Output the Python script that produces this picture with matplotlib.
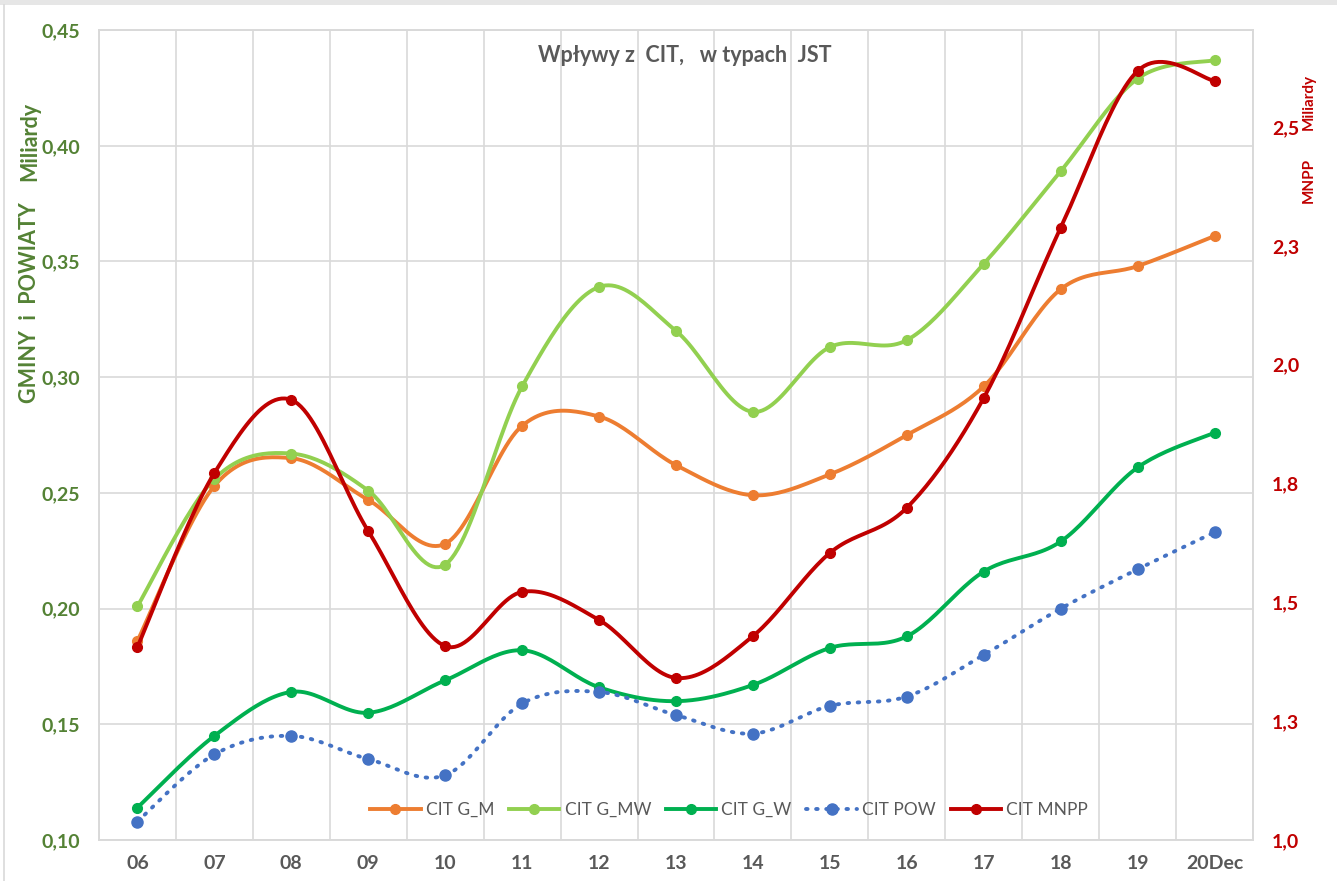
import numpy as np
import matplotlib
matplotlib.use("Agg")
import matplotlib.pyplot as plt
from matplotlib.lines import Line2D

## data (values in billions)
years = ['06', '07', '08', '09', '10', '11', '12', '13', '14', '15', '16', '17', '18', '19', '20Dec']
g_m = [0.186, 0.253, 0.265, 0.247, 0.228, 0.279, 0.283, 0.262, 0.249, 0.258, 0.275, 0.296, 0.338, 0.348, 0.361]
g_mw = [0.201, 0.256, 0.267, 0.251, 0.219, 0.296, 0.339, 0.320, 0.285, 0.313, 0.316, 0.349, 0.389, 0.429, 0.437]
g_w = [0.114, 0.145, 0.164, 0.155, 0.169, 0.182, 0.166, 0.160, 0.167, 0.183, 0.188, 0.216, 0.229, 0.261, 0.276]
pow_ = [0.108, 0.137, 0.145, 0.135, 0.128, 0.159, 0.164, 0.154, 0.146, 0.158, 0.162, 0.180, 0.200, 0.217, 0.233]
mnpp = [1.406, 1.772, 1.926, 1.650, 1.408, 1.522, 1.463, 1.341, 1.429, 1.604, 1.699, 1.930, 2.288, 2.618, 2.597]

left_ticks = [0.10, 0.15, 0.20, 0.25, 0.30, 0.35, 0.40, 0.45]
right_ticks = [1.0, 1.25, 1.5, 1.75, 2.0, 2.25, 2.5]
right_labels = ['1,0', '1,3', '1,5', '1,8', '2,0', '2,3', '2,5']

plt.rcParams['font.family'] = ['Lato', 'DejaVu Sans']

GREY = '#595959'
GREEN_TXT = '#548235'
RED = '#C00000'


# excel-like smoothed line (catmull-rom between the points)
def smooth(y, n=25):
    y = np.asarray(y, dtype=float)
    x = np.arange(len(y), dtype=float)
    p = np.vstack([x, y]).T
    p = np.vstack([p[0], p, p[-1]])
    out = []
    t = np.linspace(0, 1, n)[:, None]
    for i in range(1, len(p) - 2):
        p0, p1, p2, p3 = p[i - 1], p[i], p[i + 1], p[i + 2]
        c1 = p1 + (p2 - p0) / 6
        c2 = p2 - (p3 - p1) / 6
        seg = ((1 - t) ** 3) * p1 + 3 * ((1 - t) ** 2) * t * c1 + 3 * (1 - t) * t ** 2 * c2 + t ** 3 * p2
        out.append(seg)
    out = np.vstack(out)
    return out[:, 0], out[:, 1]


fig = plt.figure(figsize=(13.37, 8.81), dpi=100)
ax = fig.add_axes([0.074, 0.0465, 0.8632, 0.9194])
ax2 = ax.twinx()

x = np.arange(len(years))
series = [
    (g_m, '#ED7D31', 'CIT G_M'),
    (g_mw, '#92D050', 'CIT G_MW'),
    (g_w, '#00B050', 'CIT G_W'),
]
handles = []
for vals, col, lab in series:
    sx, sy = smooth(vals)
    ax.plot(sx, sy, color=col, lw=2.8, solid_capstyle='round', zorder=3)
    ax.plot(x, vals, 'o', color=col, ms=7, zorder=4)
    handles.append(Line2D([], [], color=col, lw=2.8, marker='o', ms=7, label=lab))

dots = (0, (0.4, 2.2))
sx, sy = smooth(pow_)
ax.plot(sx, sy, color='#4472C4', lw=2.8, linestyle=dots, dash_capstyle='round', zorder=3)
ax.plot(x, pow_, 'o', color='#4472C4', ms=8, zorder=4)
handles.append(Line2D([], [], color='#4472C4', lw=2.8, linestyle=dots,
                      dash_capstyle='round', marker='o', ms=8, label='CIT POW'))

sx, sy = smooth(mnpp)
ax2.plot(sx, sy, color=RED, lw=2.8, solid_capstyle='round', zorder=3)
ax2.plot(x, mnpp, 'o', color=RED, ms=7, zorder=4)
handles.append(Line2D([], [], color=RED, lw=2.8, marker='o', ms=7, label='CIT MNPP'))

## axes
ax.set_xlim(-0.5, len(years) - 0.5)
ax.set_ylim(0.10, 0.45)
ax2.set_ylim(1.0, 2.704)

ax.set_xticks(x)
ax.set_xticklabels(years)
ax.set_xticks(np.arange(-0.5, len(years)), minor=True)
ax.set_yticks(left_ticks)
ax.set_yticklabels([('%.2f' % v).replace('.', ',') for v in left_ticks])
ax2.set_yticks(right_ticks)
ax2.set_yticklabels(right_labels)

ax.tick_params(axis='x', which='both', length=0, pad=11, labelsize=14, labelcolor=GREY)
ax.tick_params(axis='y', length=0, pad=13.5, labelsize=14, labelcolor=GREEN_TXT)
ax2.tick_params(axis='y', length=0, pad=13.5, labelsize=14, labelcolor=RED)
for lbl in ax.get_xticklabels() + ax.get_yticklabels() + ax2.get_yticklabels():
    lbl.set_fontweight('bold')

ax.grid(axis='y', color='#D9D9D9', lw=1.2)
ax.grid(axis='x', which='minor', color='#D9D9D9', lw=1.2)
ax.grid(axis='x', which='major', visible=False)
ax.set_axisbelow(True)
for a in (ax, ax2):
    for s in a.spines.values():
        s.set_color('#D9D9D9')
        s.set_linewidth(1.2)

## texts
ax.text(0.508, 0.969, 'Wpływy z  CIT,   w typach  JST', transform=ax.transAxes,
        ha='center', va='center', fontsize=15.5, fontweight='bold', color=GREY)
fig.text(0.0224, 0.839, 'Miliardy', rotation=90, ha='center', va='center',
         fontsize=15.5, fontweight='bold', color=GREEN_TXT)
fig.text(0.0224, 0.657, 'GMINY  i  POWIATY', rotation=90, ha='center', va='center',
         fontsize=15.5, fontweight='bold', color=GREEN_TXT)
fig.text(0.979, 0.884, 'Miliardy', rotation=90, ha='center', va='center',
         fontsize=11, color=RED, fontweight='bold')
fig.text(0.979, 0.795, 'MNPP', rotation=90, ha='center', va='center',
         fontsize=11, color=RED, fontweight='bold')

leg = ax2.legend(handles=handles, loc='center', bbox_to_anchor=(0.546, 0.037), ncol=5,
                 frameon=False, fontsize=12.5, handlelength=2.9, handletextpad=0.3, columnspacing=0.85)
for t in leg.get_texts():
    t.set_color(GREY)

## chart border
fig.add_artist(plt.Rectangle((0, 1 - 5 / 881), 1, 5 / 881, transform=fig.transFigure,
                             color='#E6E6E6', lw=0))
fig.add_artist(Line2D([4 / 1337, 4 / 1337], [0, 1 - 5 / 881], transform=fig.transFigure,
                      color='#D9D9D9', lw=1.2))

fig.savefig('out.png', dpi=100)
